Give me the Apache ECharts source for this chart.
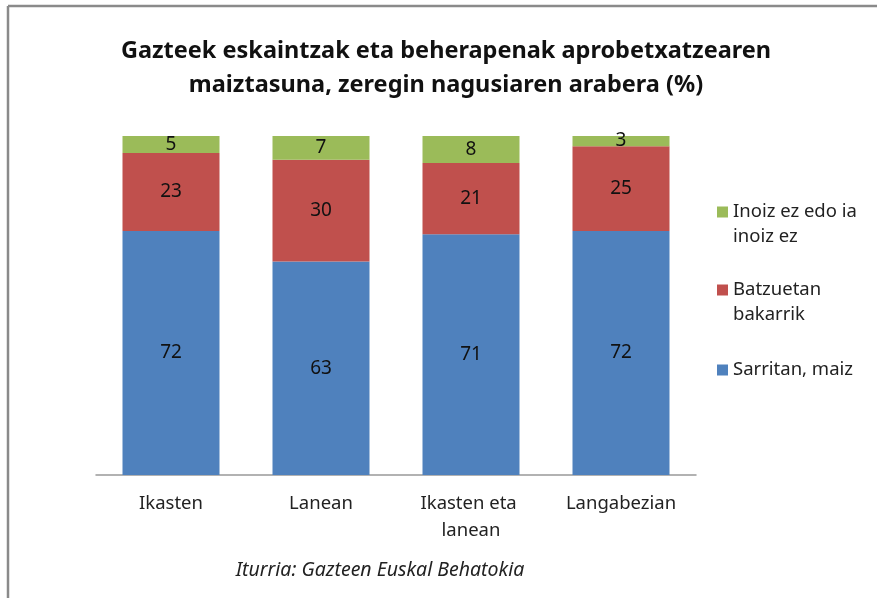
<!DOCTYPE html>
<html>
<head>
<meta charset="utf-8">
<script src="https://cdn.jsdelivr.net/npm/echarts@6/dist/echarts.min.js"></script>
<style>
    html, body {margin: 0; padding: 0; background: #fff;}
    #chart {width: 877px; height: 598px;}
</style>
</head>
<body>
<div id="chart"></div>
<script>
    // 数据
    const categories = ['Ikasten', 'Lanean', 'Ikasten eta lanean', 'Langabezian']
    const sarritan = [72, 63, 71, 72]
    const batzuetan = [23, 30, 21, 25]
    const inoiz = [5, 7, 8, 3]

    const names = ['Sarritan, maiz', 'Batzuetan bakarrik', 'Inoiz ez edo ia inoiz ez']
    // 空的第一行让图标和第一行文字对齐
    const legendText = {
        'Inoiz ez edo ia inoiz ez': '\nInoiz ez edo ia\ninoiz ez',
        'Batzuetan bakarrik': '\nBatzuetan\nbakarrik',
        'Sarritan, maiz': 'Sarritan, maiz'
    }
    const colors = ['#4F81BD', '#C0504D', '#9BBB59']
    const font = '"Noto Sans", sans-serif'

    // 每个图例单独放，位置和原图对齐
    function legendAt(name, top) {
        return {
            data: [name],
            left: 717,
            top: top,
            padding: 0,
            orient: 'vertical',
            icon: 'rect',
            itemWidth: 11,
            itemHeight: 11,
            formatter: n => legendText[n],
            selectedMode: false,
            textStyle: {
                fontFamily: font,
                fontSize: 18.5,
                color: '#222',
                lineHeight: 25
            }
        }
    }

    const seriesData = [sarritan, batzuetan, inoiz]

    const chart = echarts.init(document.getElementById('chart'))
    chart.setOption({
        animation: false,
        backgroundColor: '#fff',
        color: colors,
        title: [
            {
                text: 'Gazteek eskaintzak eta beherapenak aprobetxatzearen\nmaiztasuna, zeregin nagusiaren arabera (%)',
                left: 446,
                top: 34,
                padding: 0,
                textAlign: 'center',
                textStyle: {
                    fontFamily: font,
                    fontSize: 23.5,
                    fontWeight: 'bold',
                    color: '#111',
                    lineHeight: 34
                }
            },
            {
                text: 'Iturria: Gazteen Euskal Behatokia',
                left: 380,
                top: 558,
                padding: 0,
                textAlign: 'center',
                textStyle: {
                    fontFamily: font,
                    fontSize: 19.5,
                    fontStyle: 'italic',
                    fontWeight: 'normal',
                    color: '#222',
                    lineHeight: 24
                }
            }
        ],
        legend: [
            legendAt(names[2], 174.5),
            legendAt(names[1], 252.5),
            legendAt(names[0], 357.5)
        ],
        grid: {
            left: 96,
            right: 181,
            top: 136,
            bottom: 123,
            containLabel: false
        },
        xAxis: {
            type: 'category',
            data: categories,
            axisLine: {lineStyle: {color: '#999', width: 1.5}},
            axisTick: {show: false},
            axisLabel: {
                interval: 0,
                fontFamily: font,
                fontSize: 18.5,
                color: '#222',
                margin: 15,
                lineHeight: 27,
                width: 130,
                overflow: 'break'
            }
        },
        yAxis: {
            type: 'value',
            min: 0,
            max: 100,
            show: false
        },
        series: seriesData.map((d, i) => ({
            name: names[i],
            type: 'bar',
            stack: 'total',
            barWidth: 97,
            data: d,
            label: {
                show: true,
                position: 'inside',
                fontFamily: font,
                fontSize: 19,
                color: '#111'
            }
        })),
        graphic: [
            {
                type: 'line',
                shape: {x1: 8, y1: 6, x2: 877, y2: 6},
                style: {stroke: '#8a8a8a', lineWidth: 2.5}
            },
            {
                type: 'line',
                shape: {x1: 8, y1: 6, x2: 8, y2: 598},
                style: {stroke: '#8a8a8a', lineWidth: 2.5}
            }
        ]
    })
</script>
</body>
</html>
